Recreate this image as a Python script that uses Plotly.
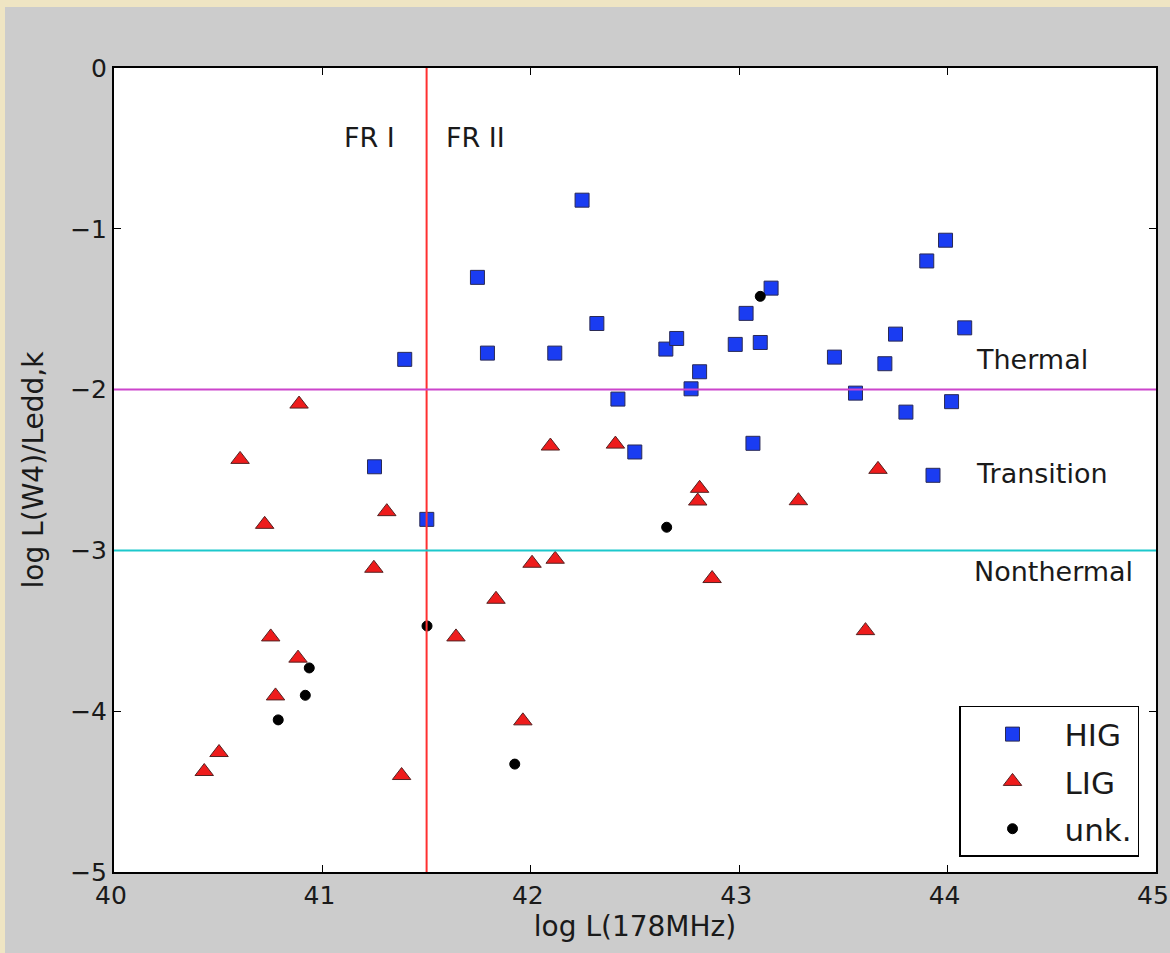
import plotly.graph_objects as go

# log L(178MHz) and log L(W4)/Ledd,k for each class of radio galaxy
hig_x = [42.246, 41.744, 41.395, 41.792, 42.115, 42.317, 42.418, 42.499, 42.648, 42.700,
         42.769, 42.810, 42.981, 43.033, 43.101, 43.153, 43.066, 43.457, 43.558, 43.699,
         43.750, 43.800, 43.900, 43.990, 44.082, 44.019, 43.930, 41.250, 41.501]
hig_y = [-0.822, -1.302, -1.812, -1.773, -1.773, -1.589, -2.059, -2.388, -1.748, -1.682,
         -1.995, -1.889, -1.719, -1.526, -1.707, -1.369, -2.334, -1.798, -2.022, -1.839,
         -1.655, -2.140, -1.200, -1.071, -1.616, -2.075, -2.533, -2.480, -2.807]

lig_x = [40.888, 40.605, 41.309, 40.723, 41.247, 41.833, 41.641, 40.752, 40.883, 40.775,
         40.504, 40.433, 41.380, 41.962, 42.094, 42.406, 42.810, 42.801, 43.284, 43.666,
         42.006, 42.117, 42.870, 43.606]
lig_y = [-2.090, -2.434, -2.759, -2.838, -3.111, -3.304, -3.538, -3.538, -3.670, -3.905,
         -4.257, -4.375, -4.400, -4.060, -2.351, -2.339, -2.614, -2.693, -2.691, -2.496,
         -3.080, -3.055, -3.175, -3.499]

unk_x = [41.502, 40.937, 40.918, 40.788, 41.923, 42.652, 43.101]
unk_y = [-3.470, -3.731, -3.901, -4.054, -4.329, -2.856, -1.420]

x_ticks = [40, 41, 42, 43, 44, 45]
y_ticks = [0, -1, -2, -3, -4, -5]

FR_BREAK = 41.5
THERMAL_LIMIT = -2
NONTHERMAL_LIMIT = -3

FONT = "DejaVu Sans"
TEXT = "#1a1a1a"
PANEL = "#cccccc"
PARCHMENT = "#efe5c3"

fig = go.Figure()

fig.add_trace(go.Scatter(
    x=hig_x, y=hig_y, mode="markers", name="HIG", legendgroup="hig",
    marker=dict(symbol="square", size=14, color="#1a3cf2",
                line=dict(color="#2a2a55", width=1)),
))
fig.add_trace(go.Scatter(
    x=lig_x, y=lig_y, mode="markers", name="LIG", legendgroup="lig",
    marker=dict(symbol="triangle-up", size=16, color="#ee1c1c",
                line=dict(color="#552222", width=1)),
))
fig.add_trace(go.Scatter(
    x=unk_x, y=unk_y, mode="markers", name="unk.", legendgroup="unk",
    marker=dict(symbol="circle", size=10, color="black",
                line=dict(color="black", width=1)),
))

# dividing lines: FR I / FR II and the accretion-mode thresholds
fig.add_vline(x=FR_BREAK, line=dict(color="#ff3030", width=2), layer="above")
fig.add_hline(y=THERMAL_LIMIT, line=dict(color="#cc44cc", width=2), layer="above")
fig.add_hline(y=NONTHERMAL_LIMIT, line=dict(color="#1cc8cc", width=2), layer="above")

labels = [
    ("FR I", 41.095, -0.43),
    ("FR II", 41.585, -0.43),
    ("Thermal", 44.125, -1.81),
    ("Transition", 44.125, -2.52),
    ("Nonthermal", 44.115, -3.13),
]
for text, lx, ly in labels:
    fig.add_annotation(x=lx, y=ly, text=text, showarrow=False,
                       xanchor="left", yanchor="middle",
                       font=dict(family=FONT, size=27, color=TEXT))

# parchment strips around the grey figure panel
fig.add_shape(type="rect", xref="paper", yref="paper",
              x0=-0.2, x1=-0.1046, y0=-0.2, y1=1.2,
              fillcolor=PARCHMENT, line_width=0, layer="above")
fig.add_shape(type="rect", xref="paper", yref="paper",
              x0=-0.2, x1=1.2, y0=1.0759, y1=1.2,
              fillcolor=PARCHMENT, line_width=0, layer="above")

axis_common = dict(
    showgrid=False, zeroline=False, automargin=False,
    showline=True, linecolor="black", linewidth=2, mirror="ticks",
    ticks="inside", ticklen=7, tickwidth=1, tickcolor="black",
    ticklabeloverflow="allow",
    tickfont=dict(family=FONT, size=25, color=TEXT),
)

fig.update_xaxes(range=[40, 45], tickvals=x_ticks, ticklabelshift=-3,
                 title=dict(text="log L(178MHz)", standoff=4,
                            font=dict(family=FONT, size=28, color=TEXT)),
                 **axis_common)
fig.update_yaxes(range=[-5, 0], tickvals=y_ticks,
                 title=dict(text="log L(W4)/Ledd,k", standoff=18,
                            font=dict(family=FONT, size=28, color=TEXT)),
                 **axis_common)

fig.update_layout(
    width=1170, height=953,
    margin=dict(l=114, r=14, t=68, b=81, autoexpand=False),
    paper_bgcolor=PANEL, plot_bgcolor="white",
    showlegend=True,
    legend=dict(x=0.9837, y=0.0187, xanchor="right", yanchor="bottom",
                bgcolor="white", bordercolor="black", borderwidth=1.5,
                font=dict(family=FONT, size=31, color=TEXT),
                tracegroupgap=4, itemwidth=94),
)

fig.write_html("out.html")
